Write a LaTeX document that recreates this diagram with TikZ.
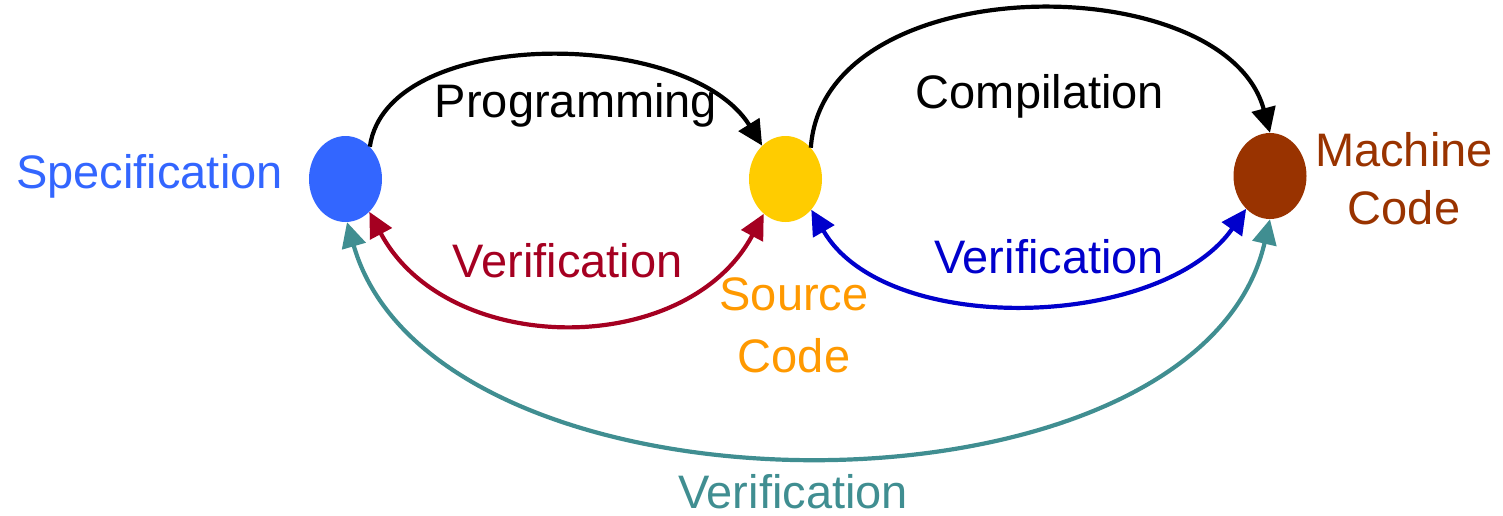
\documentclass[tikz,border=0pt]{standalone}
\usepackage{fontspec}
\setmainfont{Liberation Sans}
\usetikzlibrary{shapes.geometric,arrows.meta}
\definecolor{specblue}{HTML}{3366FF}
\definecolor{srcyellow}{HTML}{FFCC00}
\definecolor{machbrown}{HTML}{993300}
\definecolor{srcorange}{HTML}{FF9900}
\definecolor{verred}{HTML}{A50021}
\definecolor{verblue}{HTML}{0000CC}
\definecolor{verteal}{HTML}{408E91}
\tikzset{
  dot/.style={ellipse, minimum width=73pt, minimum height=86pt, inner sep=0pt, draw=none},
  lbl/.style={anchor=base, inner sep=0pt, font=\fontsize{47}{56}\selectfont},
  conn/.style={line width=4.2pt},
  tip/.style={-{Triangle[length=25pt,width=24pt]}},
  dtip/.style={{Triangle[length=25pt,width=24pt]}-{Triangle[length=25pt,width=24pt]}}
}
\begin{document}
\begin{tikzpicture}[x=1pt,y=1pt]
\useasboundingbox (0,0) rectangle (1503,-515);
% nodes
\node[dot, fill=specblue] (spec) at (345.5,-179) {};
\node[dot, fill=srcyellow] (src) at (785.5,-179) {};
\node[dot, fill=machbrown] (mach) at (1270,-176) {};
% labels
\node[lbl, text=specblue] (lspec) at (149.5,-188) {Specification};
\node[lbl] (lprog) at (576,-117) {Programming};
\node[lbl] (lcomp) at (1040,-108) {Compilation};
\node[lbl, text=machbrown, font=\fontsize{47}{58}\selectfont] (lmach) at (1404,-166) {\begin{tabular}[t]{@{}c@{}}Machine\\Code\end{tabular}};
\node[lbl, text=srcorange, font=\fontsize{47}{62}\selectfont] (lsrc) at (794,-310) {\begin{tabular}[t]{@{}c@{}}Source\\Code\end{tabular}};
\node[lbl, text=verred] (lv1) at (567.5,-277) {Verification};
\node[lbl, text=verblue] (lv2) at (1049,-273) {Verification};
\node[lbl, text=verteal] (lv3) at (793,-508) {Verification};
% connectors
\draw[conn, tip] (spec.53) .. controls +(82:122) and +(122:140) .. (src.125);
\draw[conn, tip] (src.51) .. controls +(86:182) and +(105:172) .. (mach.90);
\draw[conn, dtip, verred] (spec.-54) .. controls +(-62:165) and +(-118:165) .. (src.-122);
\draw[conn, dtip, verblue] (src.-50) .. controls +(-60:148) and +(-125:148) .. (mach.-126);
\draw[conn, dtip, verteal] (spec.-88) .. controls +(-74:322) and +(-103:322) .. (mach.-90);
\end{tikzpicture}
\end{document}
